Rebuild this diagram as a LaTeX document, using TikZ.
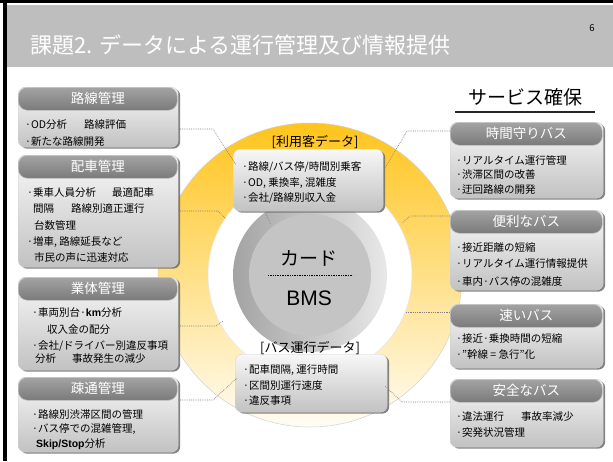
\documentclass[tikz,border=0pt]{standalone}
\usepackage{fontspec}
\setmainfont{Noto Sans CJK JP}
\newfontfamily\latin{Liberation Sans}
\usetikzlibrary{shadows}
\definecolor{titlegray}{RGB}{190,190,190}
\definecolor{ytop}{RGB}{255,196,28}
\definecolor{ymid}{RGB}{255,226,140}
\definecolor{ybot}{RGB}{255,252,244}
\begin{document}
\begin{tikzpicture}[x=1pt,y=-1pt,
  boxbody/.style={rounded corners=7pt, top color=black!3, bottom color=black!24,
    draw=black!18, line width=0.4pt, inner sep=0pt, anchor=north west,
    drop shadow={shadow xshift=2pt, shadow yshift=-1.5pt, fill=black!60, opacity=0.8}},
  hdr/.style={rounded corners=9pt, top color=black!36, bottom color=black!52,
    draw=black!22, line width=0.6pt, inner sep=0pt, anchor=north west, text=white,
    font=\fontsize{13.5}{14}\selectfont},
  txt/.style={anchor=west, inner sep=0pt, font=\fontsize{10.5}{12}\selectfont},
  dlabel/.style={inner sep=0pt, font=\fontsize{13}{14}\selectfont},
  conn/.style={draw=black!50, line width=0.6pt, dash pattern=on 0.8pt off 1pt}]
\useasboundingbox (0,0) rectangle (613,461);
\fill[white] (0,0) rectangle (613,461);
% frame and title band
\fill[black] (0,0) rectangle (613,2.5);
\fill[black] (3,0) rectangle (6.5,461);
\fill[titlegray] (6.5,5) rectangle (613,67);
\node[anchor=west, inner sep=0pt, text=white, font=\fontsize{22}{24}\selectfont] (title) at (30,45) {課題2. データによる運行管理及び情報提供};
\node[inner sep=0pt, font=\fontsize{9.5}{10}\selectfont] (pnum) at (592,28) {6};

% circles
\shade[top color=ytop, middle color=ymid, bottom color=ybot, draw=black!18, line width=0.5pt] (310,275) circle (152);
\fill[white] (310,275) circle (102);
\draw[black!10, line width=0.5pt] (310,275) circle (102);

% connectors
\coordinate (k1) at (213,129); \coordinate (e1) at (236,165);
\coordinate (k2) at (218,211); \coordinate (e2) at (226,219);
\coordinate (k4) at (216,326); \coordinate (e4) at (223,321);
\coordinate (k5) at (213,400); \coordinate (e5) at (237,378);
\coordinate (k6) at (407,131); \coordinate (e6) at (385,168);
\coordinate (k7) at (410,216); \coordinate (e7) at (402,223);
\coordinate (k8) at (405,312);
\coordinate (k9) at (402,402); \coordinate (e9) at (385,386);
\coordinate (s3) at (265,212); \coordinate (e3) at (271,225);

\shade[left color=black!36, right color=black!9] (310,275) circle (77);
\fill[black!23] (310,275) circle (61);

% left boxes
\node[boxbody, minimum width=160, minimum height=60] (L1) at (18,87) {};
\node[boxbody, minimum width=160, minimum height=112] (L2) at (18,155) {};
\node[boxbody, minimum width=160, minimum height=93] (L3) at (18,277) {};
\node[boxbody, minimum width=160, minimum height=75] (L4) at (18,377) {};
% right boxes
\node[boxbody, minimum width=153, minimum height=76] (R1) at (450,122) {};
\node[boxbody, minimum width=153, minimum height=80] (R2) at (450,210) {};
\node[boxbody, minimum width=153, minimum height=64] (R3) at (450,304) {};
\node[boxbody, minimum width=153, minimum height=68] (R4) at (450,379) {};
% data boxes
\node[boxbody, minimum width=150, minimum height=62] (D1) at (233,149) {};
\node[boxbody, minimum width=152, minimum height=58] (D2) at (235,354) {};

\draw[conn] (L1.east |- k1) -- (k1) -- (e1);
\draw[conn] (L2.east |- k2) -- (k2) -- (e2);
\draw[conn] (s3) -- (e3);
\draw[conn] (L3.east |- k4) -- (k4) -- (e4);
\draw[conn] (L4.east |- k5) -- (k5) -- (e5);
\draw[conn] (R1.west |- k6) -- (k6) -- (e6);
\draw[conn] (R2.west |- k7) -- (k7) -- (e7);
\draw[conn] (R3.west |- k8) -- (k8);
\draw[conn] (R4.west |- k9) -- (k9) -- (e9);

% headers
\node[hdr, minimum width=159, minimum height=23] (L1h) at (L1.north west) {路線管理};
\node[hdr, minimum width=159, minimum height=23] (L2h) at (L2.north west) {配車管理};
\node[hdr, minimum width=159, minimum height=23] (L3h) at (L3.north west) {業体管理};
\node[hdr, minimum width=159, minimum height=23] (L4h) at (L4.north west) {疎通管理};
\node[hdr, minimum width=152, minimum height=23] (R1h) at (R1.north west) {時間守りバス};
\node[hdr, minimum width=152, minimum height=23] (R2h) at (R2.north west) {便利なバス};
\node[hdr, minimum width=152, minimum height=23] (R3h) at (R3.north west) {速いバス};
\node[hdr, minimum width=152, minimum height=23] (R4h) at (R4.north west) {安全なバス};

% left texts
\node[txt] (L1a) at (25,125) {·OD分析\hspace{17pt}路線評価};
\node[txt] (L1b) at (25,142) {·新たな路線開発};
\node[txt] (L2a) at (27,193) {·乗車人員分析\hspace{16pt}最適配車};
\node[txt] (L2b) at (33,209) {間隔\hspace{17pt}路線別適正運行};
\node[txt] (L2c) at (34,225) {台数管理};
\node[txt] (L2d) at (27,242) {·増車, 路線延長など};
\node[txt] (L2e) at (34,258) {市民の声に迅速対応};
\node[txt] (L3a) at (32,313) {·車両別台·{\latin\bfseries km}分析};
\node[txt] (L3b) at (47,330) {収入金の配分};
\node[txt] (L3c) at (32,346) {·会社/ドライバー別違反事項};
\node[txt] (L3d) at (35,359) {分析\hspace{16pt}事故発生の減少};
\node[txt] (L4a) at (32,415) {·路線別渋滞区間の管理};
\node[txt] (L4b) at (32,429) {·バス停での混雑管理,};
\node[txt] (L4c) at (36,444) {{\latin\bfseries Skip/Stop}分析};

% right texts
\node[inner sep=0pt, font=\fontsize{19}{20}\selectfont] (svc) at (525,97) {サービス確保};
\draw[black!85, line width=2.5pt] (455,112) -- (595,112);
\node[txt] (R1a) at (456,160) {·リアルタイム運行管理};
\node[txt] (R1b) at (456,175) {·渋滞区間の改善};
\node[txt] (R1c) at (456,190) {·迂回路線の開発};
\node[txt] (R2a) at (456,247) {·接近距離の短縮};
\node[txt] (R2b) at (456,264) {·リアルタイム運行情報提供};
\node[txt] (R2c) at (456,281) {·車内·バス停の混雑度};
\node[txt] (R3a) at (456,339) {·接近·乗換時間の短縮};
\node[txt] (R3b) at (456,355) {·"幹線 = 急行"化};
\node[txt] (R4a) at (456,417) {·違法運行\hspace{17pt}事故率減少};
\node[txt] (R4b) at (456,433) {·突発状況管理};

% center
\node[dlabel] (D1l) at (315,142) {[利用客データ]};
\node[dlabel] (D2l) at (310,348) {[バス運行データ]};
\node[txt] (D1a) at (242,167) {·路線/バス停/時間別乗客};
\node[txt] (D1b) at (242,183) {·OD, 乗換率, 混雑度};
\node[txt] (D1c) at (242,198) {·会社/路線別収入金};
\node[txt] (D2a) at (243,370) {·配車間隔, 運行時間};
\node[txt] (D2b) at (243,386) {·区間別運行速度};
\node[txt] (D2c) at (243,401) {·違反事項};
\node[inner sep=0pt, font=\fontsize{19}{20}\selectfont] (card) at (309,258) {カード};
\node[inner sep=0pt, font=\latin\fontsize{21}{22}\selectfont] (bms) at (309,298) {BMS};
\draw[black, line width=1pt, dash pattern=on 0.7pt off 1pt] (card.south -| 268,0) ++(0,9) coordinate (sepl) -- (sepl -| 353,0);
\end{tikzpicture}
\end{document}
